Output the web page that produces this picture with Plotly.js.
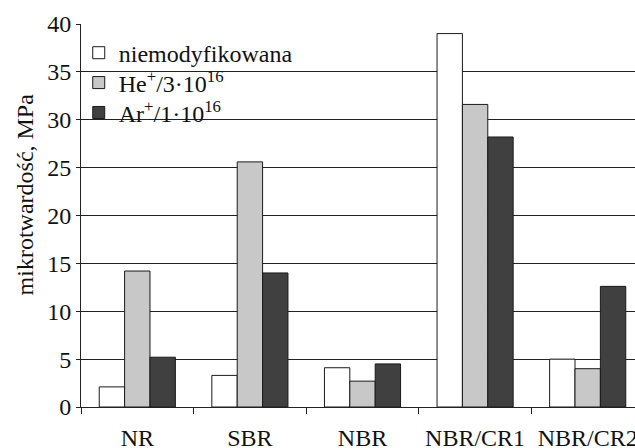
<!DOCTYPE html>
<html>
<head>
<meta charset="utf-8">
<script src="https://cdn.plot.ly/plotly-3.0.1.min.js"></script>
<style>
html, body { margin: 0; padding: 0; overflow: hidden; background: #fff; }
#chart { width: 660px; height: 448px; }
</style>
</head>
<body>
<div id="chart"></div>
<script>
const categories = ["NR", "SBR", "NBR", "NBR/CR1", "NBR/CR2"];
const seriesNames = ["niemodyfikowana", "He<sup>+</sup>/3·10<sup>16</sup>", "Ar<sup>+</sup>/1·10<sup>16</sup>"];
const unmodified = [2.1, 3.3, 4.1, 39.0, 5.0];
const heIons = [14.2, 25.6, 2.7, 31.6, 4.0];
const arIons = [5.2, 14.0, 4.5, 28.2, 12.6];
const yTicks = [0, 5, 10, 15, 20, 25, 30, 35, 40];
const yTitle = "mikrotwardość, MPa";

const fillColors = ["#ffffff", "#c8c8c8", "#404040"];
const values = [unmodified, heIons, arIons];
const legendIds = ["legend", "legend2", "legend3"];
const legendY = [0.924, 0.846, 0.768];
const FONT = "'Liberation Serif', serif";
const FS = 24;

const traces = values.map((v, i) => ({
  type: "bar",
  name: seriesNames[i],
  x: categories,
  y: v,
  legend: legendIds[i],
  marker: { color: fillColors[i], line: { color: "#1a1a1a", width: 1 } },
  hoverinfo: "skip"
}));

function legendCfg(y) {
  return {
    x: -0.004, xanchor: "left",
    y: y, yanchor: "middle",
    bgcolor: "rgba(255,255,255,0)",
    borderwidth: 0,
    font: { family: FONT, size: FS, color: "#111" }
  };
}

const layout = {
  width: 660,
  height: 448,
  margin: { l: 81, r: 16, t: 24, b: 41, pad: 0 },
  paper_bgcolor: "#ffffff",
  plot_bgcolor: "#ffffff",
  font: { family: FONT, size: FS, color: "#111" },
  barmode: "group",
  bargap: 0.324,
  bargroupgap: 0,
  showlegend: true,
  legend: legendCfg(legendY[0]),
  legend2: legendCfg(legendY[1]),
  legend3: legendCfg(legendY[2]),
  xaxis: {
    type: "category",
    tickson: "boundaries",
    ticks: "outside",
    ticklen: 6,
    tickcolor: "#222",
    showline: true,
    linecolor: "#222",
    linewidth: 1,
    showgrid: false,
    ticklabelstandoff: 9,
    tickfont: { family: FONT, size: FS, color: "#111" }
  },
  yaxis: {
    range: [0, 40],
    tickvals: yTicks,
    ticktext: yTicks.map(String),
    ticks: "outside",
    ticklen: 4,
    tickcolor: "#222",
    showline: true,
    linecolor: "#222",
    linewidth: 1,
    showgrid: true,
    gridcolor: "#222",
    gridwidth: 1,
    zeroline: false,
    ticklabelstandoff: 0,
    tickfont: { family: FONT, size: FS, color: "#111" }
  },
  annotations: [{
    text: yTitle,
    xref: "paper", yref: "paper",
    x: 0, y: 0.555,
    xanchor: "center", yanchor: "middle",
    xshift: -56,
    textangle: -90,
    showarrow: false,
    font: { family: FONT, size: FS, color: "#111" }
  }],
  shapes: [{
    type: "rect", layer: "between",
    xref: "paper", yref: "y",
    x0: 0.002, x1: 0.3925, y0: 25.5, y1: 39.8,
    fillcolor: "#ffffff", line: { width: 0 }
  }]
};

Plotly.newPlot("chart", traces, layout, { displayModeBar: false, staticPlot: true });
</script>
</body>
</html>
